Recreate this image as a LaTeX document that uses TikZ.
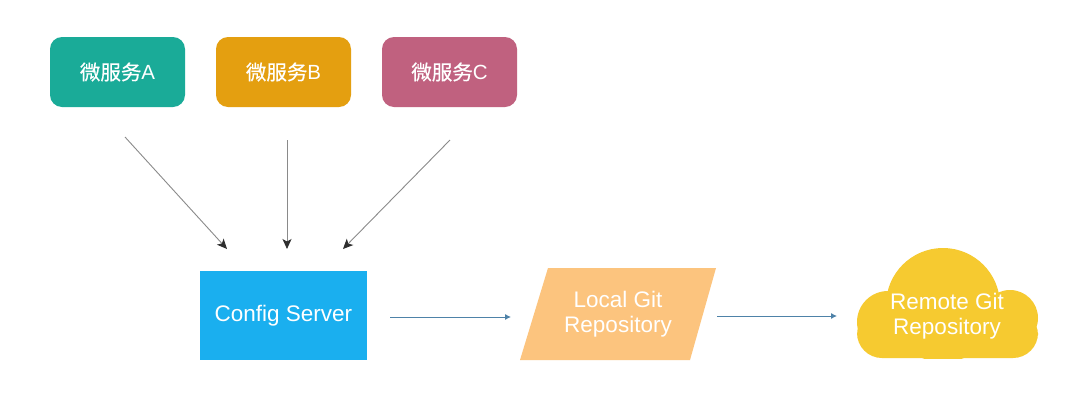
\documentclass[tikz,border=0pt]{standalone}
\usepackage{fontspec}
\setmainfont{Liberation Sans}
\newfontfamily\cjk[FakeBold=0.6]{Noto Sans CJK SC}
\usetikzlibrary{arrows.meta,calc}
\definecolor{cA}{HTML}{1AAB98}
\definecolor{cB}{HTML}{E49F10}
\definecolor{cC}{HTML}{C0617F}
\definecolor{cCS}{HTML}{1AAFEF}
\definecolor{cLG}{HTML}{FCC47E}
\definecolor{cRG}{HTML}{F6CA30}
\definecolor{garrow}{HTML}{8A8A8A}
\definecolor{gtip}{HTML}{2E2E2E}
\definecolor{barrow}{HTML}{4E82A8}
\begin{document}
\begin{tikzpicture}[x=1pt,y=-1pt,
  svc/.style={rounded corners=12pt, minimum width=135pt, minimum height=70pt,
    text=white, font=\fontsize{20.5}{20.5}\selectfont, inner sep=0pt},
  server/.style={minimum width=167pt, minimum height=89pt, fill=cCS,
    text=white, font=\fontsize{22.5}{26}\selectfont, inner sep=0pt},
  lbl/.style={text=white, align=center, font=\fontsize{22.5}{24.5}\selectfont, inner sep=0pt},
  garr/.style={draw=garrow, line width=0.9pt, -{Stealth[length=10pt,width=9pt,inset=2.5pt,color=gtip]}},
  barr/.style={draw=barrow, line width=0.9pt, -{Latex[length=6pt,width=6pt]}}
]
\useasboundingbox (0,0) rectangle (1080,397);
\fill[white] (0,0) rectangle (1080,397);
% microservices
\node[svc, fill=cA] (A) at (117.5,72) {{\cjk 微服务}A};
\node[svc, fill=cB] (B) at (283.5,72) {{\cjk 微服务}B};
\node[svc, fill=cC] (C) at (449.5,72) {{\cjk 微服务}C};
% config server
\node[server] (cs) at (283.5,315.5) {Config Server};
% local git parallelogram
\fill[cLG] (548,268) -- (716,268) -- (690,360) -- (520,360) -- cycle;
\node[lbl] (lg) at (618,314) {Local Git\\Repository};
% cloud
\begin{scope}
\clip (850,240) rectangle (1045,358);
\fill[cRG, rounded corners=25pt] (857,310) rectangle (1038,358);
\fill[cRG] (943,305) circle[radius=57];
\fill[cRG] (888,322) circle[radius=31];
\fill[cRG] (1010,318) circle[radius=28];
\fill[cRG] (880,305) rectangle (1015,340);
\end{scope}
\node[lbl] (rg) at (947,316) {Remote Git\\Repository};
% connector endpoints
\coordinate (a1) at (125,137);
\coordinate (a2) at (227,249);
\coordinate (b1) at (287,140);
\coordinate (b2) at (287,249);
\coordinate (c1) at (450,140);
\coordinate (c2) at (343,249);
\coordinate (s1) at (390,317);
\coordinate (s2) at (511,317);
\coordinate (l1) at (717,316);
\coordinate (l2) at (837,316);
\draw[garr] (a1) -- (a2);
\draw[garr] (b1) -- (b2);
\draw[garr] (c1) -- (c2);
\draw[barr] (s1) -- (s2);
\draw[barr] (l1) -- (l2);
\end{tikzpicture}
\end{document}
